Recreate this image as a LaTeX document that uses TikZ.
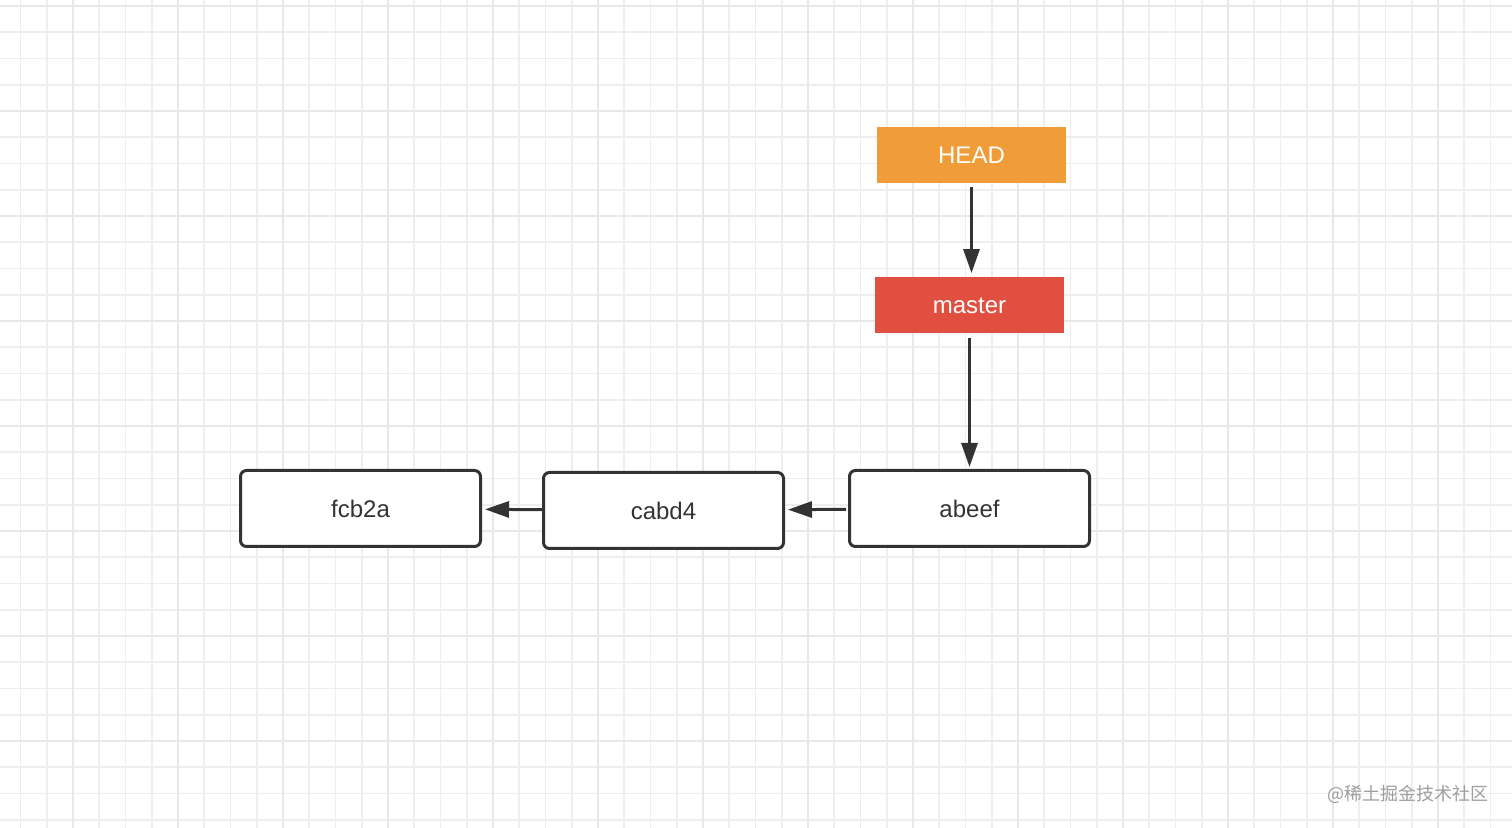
\documentclass[tikz,border=0pt]{standalone}
\usepackage{fontspec}
\setmainfont{Liberation Sans}
\newfontfamily\cjk{Noto Sans CJK SC}
\usetikzlibrary{arrows.meta}

\definecolor{headorange}{HTML}{F09C38}
\definecolor{masterred}{HTML}{E14F40}
\definecolor{inkdark}{HTML}{333333}
\definecolor{gridminor}{HTML}{EEEEEE}
\definecolor{gridmajor}{HTML}{E8E8E8}

\tikzset{
  minorline/.style={gridminor, line width=0.9pt},
  majorline/.style={gridmajor, line width=1.2pt},
  reftag/.style={minimum width=94.5pt, minimum height=28pt, inner sep=0pt,
    text=white, font=\fontsize{12}{14}\selectfont},
  commit/.style={draw=inkdark, line width=1.5pt, rounded corners=3pt, fill=white,
    minimum width=120pt, minimum height=38pt, inner sep=0pt,
    text=inkdark, font=\fontsize{12}{14}\selectfont},
  link/.style={draw=inkdark, line width=1.5pt,
    -{Triangle[length=12pt,width=8pt]}},
}

\begin{document}
\begin{tikzpicture}[x=0.5pt,y=-0.5pt]
    \useasboundingbox (0,0) rectangle (1512,828);
    \fill[white] (0,0) rectangle (1512,828);
    % grid paper
    \foreach \k in {0,...,58}
        \draw[minorline] ({-5.75+26.25*\k},0) -- ++(0,828);
    \foreach \k in {-1,...,32}
        \draw[minorline] (0,{6+26.25*\k}) -- ++(1512,0);
    \foreach \k in {0,...,13}
        \draw[majorline] ({73+105*\k},0) -- ++(0,828);
    \foreach \k in {0,...,7}
        \draw[majorline] (0,{6+105*\k}) -- ++(1512,0);

    % refs
    \node[reftag, fill=headorange] (head) at (971.5,155) {\raisebox{-1pt}{HEAD}};
    \node[reftag, fill=masterred] (master) at (969.5,305.5) {\raisebox{-1pt}{master}};

    % commits
    \node[commit] (fcb2a) at (360.5,508.5) {\raisebox{-1pt}{fcb2a}};
    \node[commit] (cabd4) at (663.5,510.5) {\raisebox{-1pt}{cabd4}};
    \node[commit] (abeef) at (969.5,508.5) {\raisebox{-1pt}{abeef}};

    % pointers
    \draw[link, shorten <=2pt, shorten >=2pt] (head.south) -- (head.south |- master.north);
    \draw[link, shorten <=2pt, shorten >=1pt] (master) -- (abeef);
    \draw[link, shorten <=1pt, shorten >=1.5pt] (abeef) -- (cabd4);
    \draw[link, shorten <=0pt, shorten >=1.5pt] (cabd4) -- (fcb2a);

    % watermark
    \node[text=black!38, font=\cjk\fontsize{9}{10}\selectfont] (mark) at (1408,794) {@稀土掘金技术社区};
\end{tikzpicture}
\end{document}
